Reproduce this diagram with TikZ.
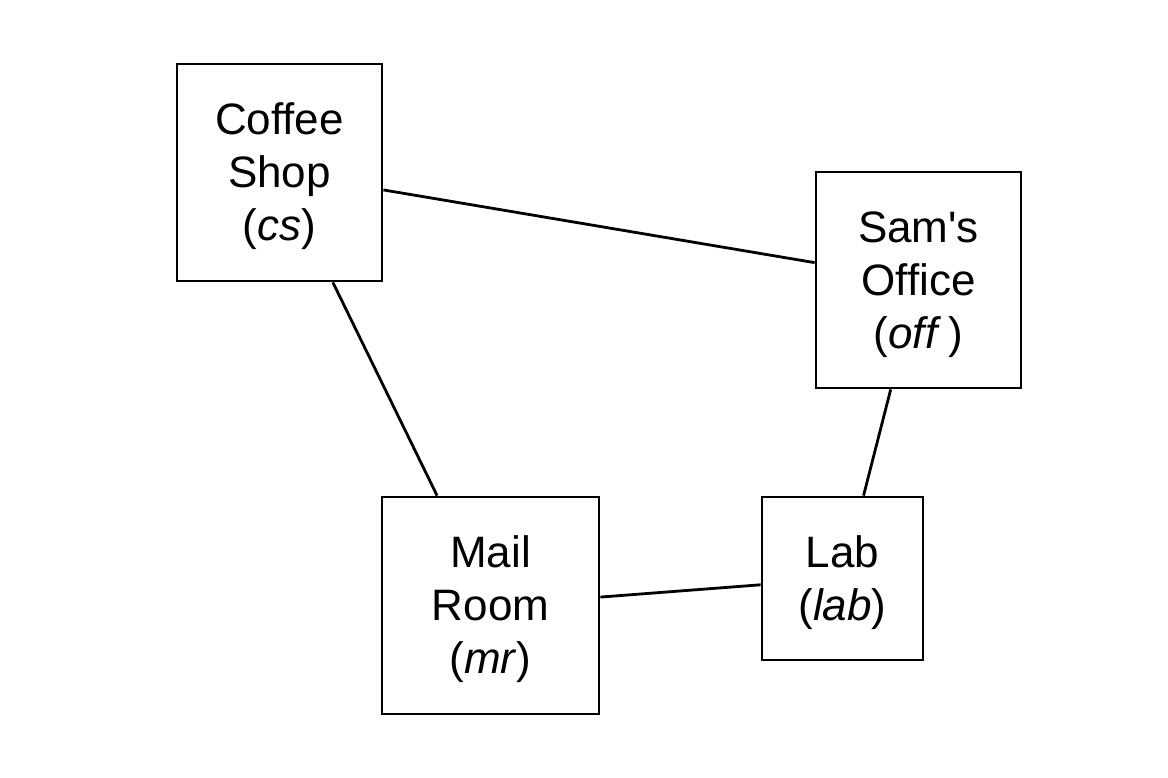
\documentclass[tikz,border=0pt]{standalone}
\usepackage{fontspec}
\setmainfont{Liberation Sans}[Ligatures={TeXOff,CommonOff}]
\newcommand\tstrut{\rule{0pt}{40pt}}
\begin{document}
\begin{tikzpicture}[x=1pt,y=-1pt,
  place/.style={draw=black,line width=2.8pt,fill=white,inner sep=0pt,align=center,
    font=\fontsize{44}{53}\selectfont},
  link/.style={line width=2.8pt}]
\useasboundingbox (0,0) rectangle (1168,777);
\node[place,minimum width=205pt,minimum height=217pt] (cs) at (279.5,172.5) {\tstrut Coffee\\Shop\\(\textit{cs})};
\node[place,minimum width=205pt,minimum height=216pt] (off) at (918.5,280) {\tstrut Sam's\\Office\\(\textit{off}\,)};
\node[place,minimum width=217pt,minimum height=217pt] (mr) at (490.5,605.5) {\tstrut Mail\\Room\\(\textit{mr})};
\node[place,minimum width=161pt,minimum height=163pt] (lab) at (842.5,578.5) {\tstrut Lab\\(\textit{lab})};
\draw[link] (cs) -- (off);
\draw[link] (cs) -- (mr);
\draw[link] (off) -- (lab);
\draw[link] (mr) -- (lab);
\end{tikzpicture}
\end{document}
